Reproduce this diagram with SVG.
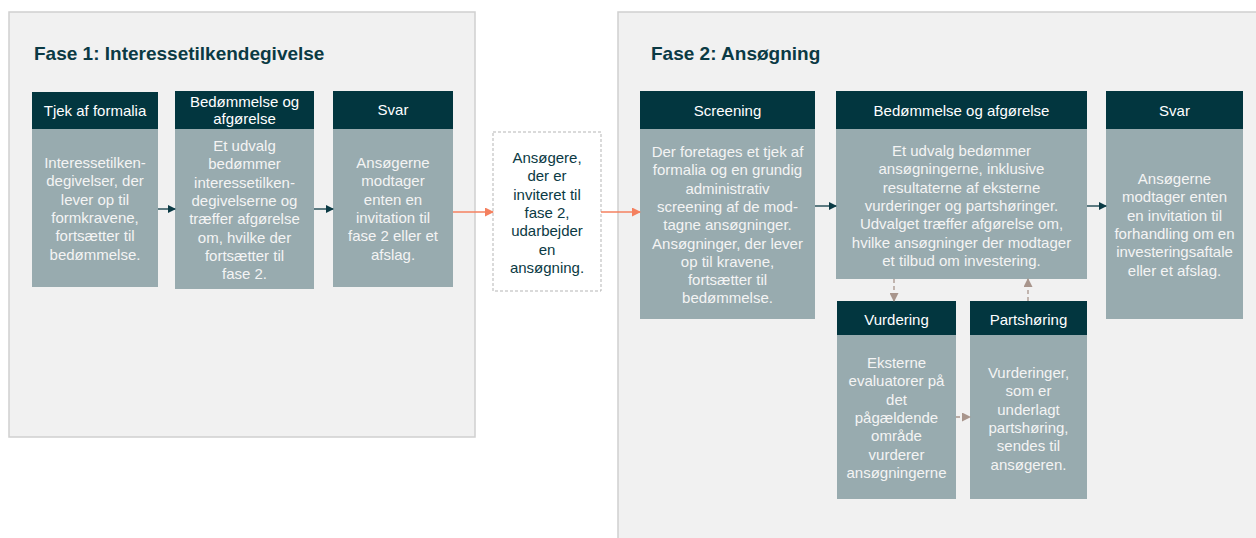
<svg xmlns="http://www.w3.org/2000/svg" width="1256" height="538" viewBox="0 0 1256 538">
<defs>
<style>
.panel{fill:#f1f1f1;stroke:#cfcfcf;stroke-width:1.5}
.hd{fill:#02363f}
.bd{fill:#98abaf}
.title{font-family:"Liberation Sans",Arial,sans-serif;font-weight:bold;font-size:19px;fill:#0b3a44}
.ht{font-family:"Liberation Sans",Arial,sans-serif;font-size:15px;fill:#ffffff;text-anchor:middle}
.bt{font-family:"Liberation Sans",Arial,sans-serif;font-size:15px;fill:#f4f4f4;text-anchor:middle}
.dt{font-family:"Liberation Sans",Arial,sans-serif;font-size:15px;fill:#0b3a44;text-anchor:middle}
.c-dark{stroke:#0b3a44;stroke-width:1.3;fill:none}
.c-or{stroke:#f4805f;stroke-width:1.3;fill:none}
.c-br{stroke:#a8958c;stroke-width:1.3;fill:none;stroke-dasharray:4 3}
</style>
<marker id="mDark" markerWidth="8" markerHeight="8" refX="7" refY="4" orient="auto" markerUnits="userSpaceOnUse"><path d="M0,0 L8,4 L0,8 Z" fill="#0b3a44"/></marker>
<marker id="mOr" markerWidth="9" markerHeight="9" refX="8" refY="4.5" orient="auto" markerUnits="userSpaceOnUse"><path d="M0,0 L9,4.5 L0,9 Z" fill="#f4805f"/></marker>
<marker id="mBr" markerWidth="9" markerHeight="9" refX="8" refY="4.5" orient="auto" markerUnits="userSpaceOnUse"><path d="M0,0 L9,4.5 L0,9 Z" fill="#a8958c"/></marker>
</defs>
<rect width="1256" height="538" fill="#ffffff"/>

<g id="phase1">
<rect class="panel" x="9" y="12" width="466" height="425"/>
<text class="title" x="34" y="60">Fase 1: Interessetilkendegivelse</text>
</g>
<g id="phase2">
<rect class="panel" x="618" y="12" width="645" height="535"/>
<text class="title" x="651" y="60">Fase 2: Ansøgning</text>
</g>

<g id="p1-tjek">
<rect class="hd" x="32" y="92" width="126" height="37"/>
<rect class="bd" x="32" y="129" width="126" height="158"/>
<text class="ht" x="95" y="116">Tjek af formalia</text>
<text class="bt"><tspan x="95" y="168">Interessetilken-</tspan><tspan x="95" y="186.3">degivelser, der</tspan><tspan x="95" y="204.6">lever op til</tspan><tspan x="95" y="222.9">formkravene,</tspan><tspan x="95" y="241.2">fortsætter til</tspan><tspan x="95" y="259.5">bedømmelse.</tspan></text>
</g>

<g id="p1-bedoemmelse">
<rect class="hd" x="175" y="91" width="139" height="38"/>
<rect class="bd" x="175" y="129" width="139" height="160"/>
<text class="ht"><tspan x="244.5" y="107">Bedømmelse og</tspan><tspan x="244.5" y="124">afgørelse</tspan></text>
<text class="bt"><tspan x="244.5" y="151">Et udvalg</tspan><tspan x="244.5" y="169.3">bedømmer</tspan><tspan x="244.5" y="187.6">interessetilken-</tspan><tspan x="244.5" y="205.9">degivelserne og</tspan><tspan x="244.5" y="224.2">træffer afgørelse</tspan><tspan x="244.5" y="242.5">om, hvilke der</tspan><tspan x="244.5" y="260.8">fortsætter til</tspan><tspan x="244.5" y="279.1">fase 2.</tspan></text>
</g>

<g id="p1-svar">
<rect class="hd" x="333" y="91" width="120" height="38"/>
<rect class="bd" x="333" y="129" width="120" height="158"/>
<text class="ht" x="393" y="115">Svar</text>
<text class="bt"><tspan x="393" y="168">Ansøgerne</tspan><tspan x="393" y="186.3">modtager</tspan><tspan x="393" y="204.6">enten en</tspan><tspan x="393" y="222.9">invitation til</tspan><tspan x="393" y="241.2">fase 2 eller et</tspan><tspan x="393" y="259.5">afslag.</tspan></text>
</g>

<g id="invited">
<rect x="493" y="132" width="108" height="159" fill="#ffffff" stroke="#b5b5b5" stroke-width="1" stroke-dasharray="3 2"/>
<text class="dt"><tspan x="547" y="163">Ansøgere,</tspan><tspan x="547" y="181.3">der er</tspan><tspan x="547" y="199.6">inviteret til</tspan><tspan x="547" y="217.9">fase 2,</tspan><tspan x="547" y="236.2">udarbejder</tspan><tspan x="547" y="254.5">en</tspan><tspan x="547" y="272.8">ansøgning.</tspan></text>
</g>

<g id="p2-screening">
<rect class="hd" x="640" y="91" width="175" height="38"/>
<rect class="bd" x="640" y="129" width="175" height="190"/>
<text class="ht" x="727.5" y="116">Screening</text>
<text class="bt"><tspan x="727.5" y="157">Der foretages et tjek af</tspan><tspan x="727.5" y="175.3">formalia og en grundig</tspan><tspan x="727.5" y="193.6">administrativ</tspan><tspan x="727.5" y="211.9">screening af de mod-</tspan><tspan x="727.5" y="230.2">tagne ansøgninger.</tspan><tspan x="727.5" y="248.5">Ansøgninger, der lever</tspan><tspan x="727.5" y="266.8">op til kravene,</tspan><tspan x="727.5" y="285.1">fortsætter til</tspan><tspan x="727.5" y="303.4">bedømmelse.</tspan></text>
</g>

<g id="p2-bedoemmelse">
<rect class="hd" x="836" y="91" width="251" height="38"/>
<rect class="bd" x="836" y="129" width="251" height="150"/>
<text class="ht" x="961.5" y="116">Bedømmelse og afgørelse</text>
<text class="bt"><tspan x="961.5" y="156">Et udvalg bedømmer</tspan><tspan x="961.5" y="174.3">ansøgningerne, inklusive</tspan><tspan x="961.5" y="192.6">resultaterne af eksterne</tspan><tspan x="961.5" y="210.9">vurderinger og partshøringer.</tspan><tspan x="961.5" y="229.2">Udvalget træffer afgørelse om,</tspan><tspan x="961.5" y="247.5">hvilke ansøgninger der modtager</tspan><tspan x="961.5" y="265.8">et tilbud om investering.</tspan></text>
</g>

<g id="p2-svar">
<rect class="hd" x="1106" y="91" width="137" height="38"/>
<rect class="bd" x="1106" y="129" width="137" height="190"/>
<text class="ht" x="1174.5" y="116">Svar</text>
<text class="bt"><tspan x="1174.5" y="184">Ansøgerne</tspan><tspan x="1174.5" y="202.3">modtager enten</tspan><tspan x="1174.5" y="220.6">en invitation til</tspan><tspan x="1174.5" y="238.9">forhandling om en</tspan><tspan x="1174.5" y="257.2">investeringsaftale</tspan><tspan x="1174.5" y="275.5">eller et afslag.</tspan></text>
</g>

<g id="p2-vurdering">
<rect class="hd" x="837" y="301" width="119" height="34"/>
<rect class="bd" x="837" y="335" width="119" height="164"/>
<text class="ht" x="896.5" y="325">Vurdering</text>
<text class="bt"><tspan x="896.5" y="368">Eksterne</tspan><tspan x="896.5" y="386.3">evaluatorer på</tspan><tspan x="896.5" y="404.6">det</tspan><tspan x="896.5" y="422.9">pågældende</tspan><tspan x="896.5" y="441.2">område</tspan><tspan x="896.5" y="459.5">vurderer</tspan><tspan x="896.5" y="477.8">ansøgningerne</tspan></text>
</g>

<g id="p2-partshoering">
<rect class="hd" x="970" y="301" width="117" height="34"/>
<rect class="bd" x="970" y="335" width="117" height="164"/>
<text class="ht" x="1028.5" y="325">Partshøring</text>
<text class="bt"><tspan x="1028.5" y="378">Vurderinger,</tspan><tspan x="1028.5" y="396.3">som er</tspan><tspan x="1028.5" y="414.6">underlagt</tspan><tspan x="1028.5" y="432.9">partshøring,</tspan><tspan x="1028.5" y="451.2">sendes til</tspan><tspan x="1028.5" y="469.5">ansøgeren.</tspan></text>
</g>

<g id="connectors">
<line class="c-dark" x1="158" y1="209" x2="175" y2="209" marker-end="url(#mDark)"/>
<line class="c-dark" x1="314" y1="209" x2="333" y2="209" marker-end="url(#mDark)"/>
<line class="c-or" x1="453" y1="212" x2="493" y2="212" marker-end="url(#mOr)"/>
<line class="c-or" x1="601" y1="212" x2="640" y2="212" marker-end="url(#mOr)"/>
<line class="c-dark" x1="815" y1="206" x2="836" y2="206" marker-end="url(#mDark)"/>
<line class="c-dark" x1="1087" y1="206" x2="1106" y2="206" marker-end="url(#mDark)"/>
<line class="c-br" x1="894" y1="279" x2="894" y2="301" marker-end="url(#mBr)"/>
<line class="c-br" x1="1028" y1="301" x2="1028" y2="279" marker-end="url(#mBr)"/>
<line class="c-br" x1="956" y1="417" x2="970" y2="417" marker-end="url(#mBr)"/>
</g>
</svg>
